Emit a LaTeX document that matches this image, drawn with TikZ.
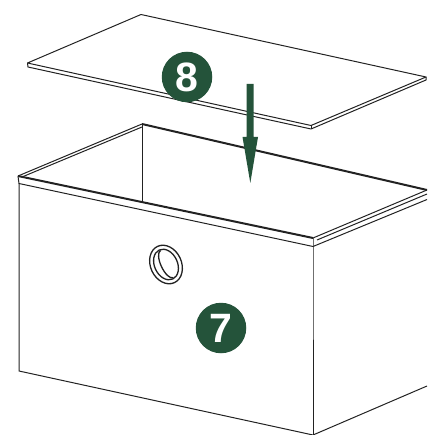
\documentclass[tikz,border=0pt]{standalone}
\usepackage{fontspec}
\usetikzlibrary{calc}
\setmainfont{Liberation Sans}
\definecolor{dkgreen}{HTML}{24533A}
\definecolor{ink}{HTML}{222222}
\tikzset{
  thin line/.style={draw=ink,line width=1pt,line join=round},
  thick line/.style={draw=ink,line width=2pt,line join=round},
  ring line/.style={draw=ink,line width=1.3pt},
  badge/.style={circle,fill=dkgreen,text=white,inner sep=0pt,minimum size=50.5pt,font=\bfseries\fontsize{41}{41}\selectfont}
}
\begin{document}
\begin{tikzpicture}[x=1pt,y=-1pt]
\useasboundingbox (0,0) rectangle (427,435);
% lid
\coordinate (lidL) at (27.5,63);
\coordinate (lidT) at (141,14.5);
\coordinate (lidR) at (426,77);
\coordinate (lidB) at (311,125.5);
\coordinate (lidL2) at (28,67);
\coordinate (lidB2) at (311,129);
\coordinate (lidR2) at (426,80);
\draw[thin line] (lidL) -- (lidT) -- (lidR) -- (lidB) -- cycle;
\draw[thin line] (lidL) -- (lidL2) -- (lidB2) -- (lidR2) -- (lidR);
\draw[thin line] (lidB) -- (lidB2);
% box
\coordinate (rimL) at (18,176);
\coordinate (rimT) at (142,124);
\coordinate (rimR) at (427,190);
\coordinate (rimF) at (313,238);
\coordinate (rimL2) at (19,183.5);
\coordinate (rimF2) at (313,246.5);
\coordinate (rimR2) at (427,199.5);
\coordinate (botL) at (19,371);
\coordinate (botF) at (313,435);
\coordinate (botR) at (427,386);
\coordinate (inB) at (142,201);
\draw[thin line] (rimL) -- (rimL2) -- (rimF2) -- (rimR2);
\draw[thin line] (rimF) -- (rimF2) -- (botF);
\draw[thin line] (rimL2) -- (botL) -- (botF) -- (botR);
\draw[thin line] (rimT) -- (inB);
\draw[thin line] (rimL) -- (rimT);
\draw[thin line] ($(rimL)+(4,1)$) -- ($(rimT)+(0,3)$);
\draw[thin line] (rimF) -- (rimR);
\draw[thin line] ($(rimF)+(4,2)$) -- ($(rimR)+(0,4)$);
\draw[thick line] (rimL) -- (rimF);
\draw[thick line] (rimT) -- (rimR);
% grommet
\coordinate (gr) at (166,264.5);
\begin{scope}[shift={(gr)},rotate=25]
\draw[ring line] (0,0) ellipse (15.5pt and 20pt);
\draw[ring line] (0,0) ellipse (11.5pt and 16pt);
\draw[ring line] (1,-15) arc[start angle=90,end angle=270,x radius=6pt,y radius=15pt];
\end{scope}
% arrow
\fill[dkgreen] (246.5,84) -- (253.5,84) -- (253.5,137) -- (258,137) -- (250.3,183) -- (242.5,137) -- (246.5,137) -- cycle;
% badges
\node[badge] (eight) at (187,77) {8};
\node[badge] (seven) at (221,328) {7};
\end{tikzpicture}
\end{document}
